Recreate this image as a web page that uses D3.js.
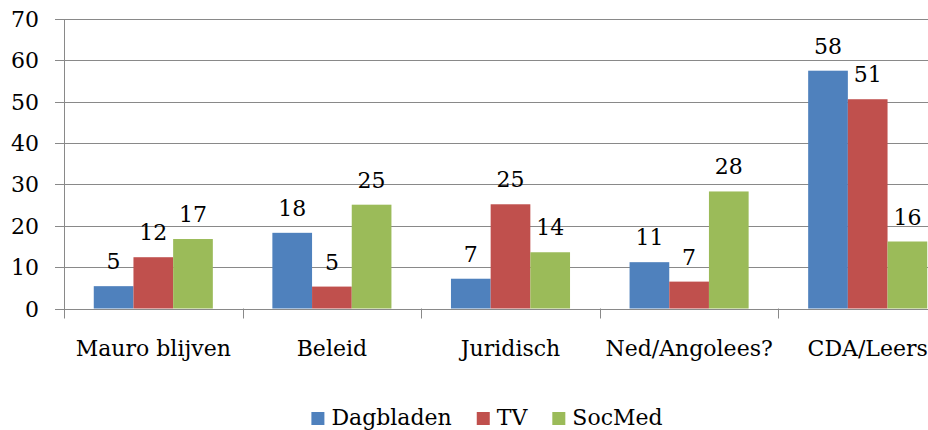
<!DOCTYPE html>
<html>
<head>
<meta charset="utf-8">
<script src="https://cdn.jsdelivr.net/npm/d3@7"></script>
<style>
  body { margin: 0; background: #fff; }
  svg { display: block; }
  text { font-family: "DejaVu Serif", serif; font-size: 22px; fill: #000; }
</style>
</head>
<body>
<svg id="chart" width="928" height="430"></svg>
<script>
var categories = ["Mauro blijven", "Beleid", "Juridisch", "Ned/Angolees?", "CDA/Leers"];
var series = ["Dagbladen", "TV", "SocMed"];
var colors = ["#4f81bd", "#c0504d", "#9bbb59"];
var dagbladen = [5.4, 18.3, 7.2, 11.2, 57.5];
var tv = [12.4, 5.3, 25.2, 6.5, 50.6];
var socmed = [16.8, 25.1, 13.6, 28.3, 16.2];
var yTicks = [0, 10, 20, 30, 40, 50, 60, 70];

var values = [dagbladen, tv, socmed];

var svg = d3.select("#chart"),
  pLeft = 64, pRight = 957, pTop = 19, pBottom = 308.5;

var x = d3.scaleBand().domain(categories).range([pLeft, pRight]);
var bw = x.bandwidth() / 4.5; // gap width 150%
var xs = d3.scaleBand().domain(series).range([bw * 0.75, bw * 3.75]);
var y = d3.scaleLinear().domain([0, 70]).range([pBottom, pTop]);

//gridlines + y ticks
var gline = "#898989";
svg.append("g").selectAll("line")
  .data(yTicks)
  .enter().append("line")
  .attr("x1", pLeft - 9).attr("x2", pRight)
  .attr("y1", function (d) { return Math.round(y(d)) + .5 })
  .attr("y2", function (d) { return Math.round(y(d)) + .5 })
  .attr("stroke", gline);
svg.append("g").selectAll("text")
  .data(yTicks)
  .enter().append("text")
  .attr("text-anchor", "end")
  .attr("x", 39)
  .attr("y", function (d) { return y(d) + 8 })
  .text(function (d) { return d });

//bars
var groups = svg.append("g").selectAll("g")
  .data(categories)
  .enter().append("g")
  .attr("transform", function (d) { return "translate(" + x(d) + ",0)" });
groups.selectAll("rect")
  .data(function (d, i) { return series.map(function (s, j) { return { s: s, v: values[j][i], c: colors[j] } }) })
  .enter().append("rect")
  .attr("x", function (d) { return xs(d.s) })
  .attr("width", xs.bandwidth())
  .attr("y", function (d) { return y(d.v) })
  .attr("height", function (d) { return y(0) - y(d.v) })
  .attr("fill", function (d) { return d.c });
groups.selectAll("text")
  .data(function (d, i) { return series.map(function (s, j) { return { s: s, v: values[j][i] } }) })
  .enter().append("text")
  .attr("text-anchor", "middle")
  .attr("x", function (d) { return xs(d.s) + xs.bandwidth() / 2 })
  .attr("y", function (d) { return y(d.v) - 17 })
  .text(function (d) { return Math.round(d.v) });

//axes
var ax = svg.append("g").attr("stroke", gline);
ax.append("line")
  .attr("x1", pLeft + .5).attr("x2", pLeft + .5)
  .attr("y1", pTop).attr("y2", pBottom + 10);
ax.append("line")
  .attr("x1", pLeft).attr("x2", pRight)
  .attr("y1", Math.round(y(0)) + .5).attr("y2", Math.round(y(0)) + .5);
ax.selectAll("line.sep")
  .data(categories.slice(1))
  .enter().append("line")
  .attr("class", "sep")
  .attr("x1", function (d) { return Math.round(x(d)) + .5 })
  .attr("x2", function (d) { return Math.round(x(d)) + .5 })
  .attr("y1", pBottom).attr("y2", pBottom + 10);

//category labels
svg.append("g").selectAll("text")
  .data(categories)
  .enter().append("text")
  .attr("text-anchor", "middle")
  .attr("x", function (d) { return x(d) + x.bandwidth() / 2 })
  .attr("y", 356)
  .text(function (d) { return d });

//legend
var legend = svg.append("g");
var items = legend.selectAll("g")
  .data(series)
  .enter().append("g");
items.append("rect")
  .attr("width", 13).attr("height", 13)
  .attr("y", 412)
  .attr("fill", function (d, i) { return colors[i] });
items.append("text")
  .attr("x", 20)
  .attr("y", 425)
  .text(function (d) { return d });
var pos = 0;
items.each(function () {
  var w = 20 + this.querySelector("text").getComputedTextLength();
  d3.select(this).attr("transform", "translate(" + pos + ",0)");
  pos += w + 25;
});
legend.attr("transform", "translate(" + (487 - (pos - 25) / 2) + ",0)");
</script>
</body>
</html>
